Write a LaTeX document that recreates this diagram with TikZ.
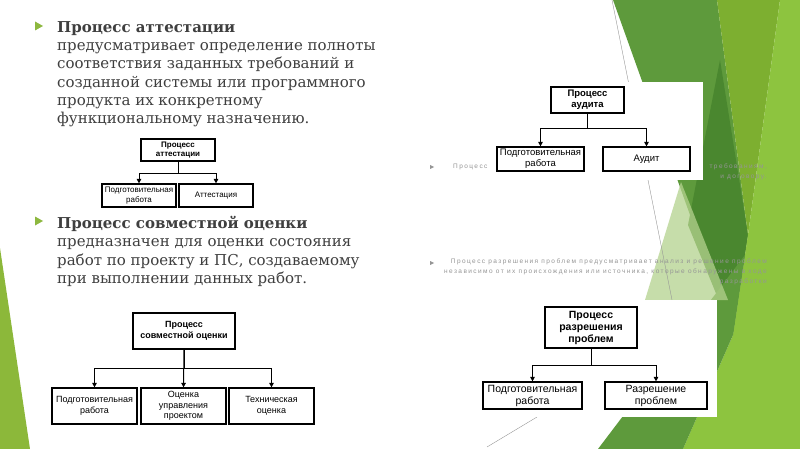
\documentclass[tikz,border=0pt]{standalone}
\usepackage{fontspec}
\setmainfont{DejaVu Serif}
\newfontfamily\boxfont{Liberation Sans}
\newfontfamily\hazefont[LetterSpace=22]{Liberation Sans}
\usetikzlibrary{positioning,arrows.meta}
\definecolor{slidetext}{HTML}{3F3F3F}
\definecolor{bulletgreen}{HTML}{8DB83F}
\definecolor{leafstrip}{HTML}{8CB83A}
\definecolor{leafmid}{HTML}{5E9A3C}
\definecolor{leafdark}{HTML}{4A872F}
\definecolor{leafolive}{HTML}{7DAF30}
\definecolor{leaflime}{HTML}{8DC43F}
\definecolor{leafpale}{HTML}{B4D28E}
\definecolor{hazegray}{HTML}{959595}
\def\slidebullet(#1,#2){\fill[bulletgreen] (#1,#2) ++(0,-4.5) -- ++(8,4.5) -- ++(-8,4.5) -- cycle;}
\tikzset{
  procbox/.style n args={2}{draw=black, line width=1.2pt, fill=white, align=center, inner sep=0pt, font=\boxfont\fontsize{#1}{#2}\selectfont},
  headbox/.style n args={2}{procbox={#1}{#2}, font=\boxfont\bfseries\fontsize{#1}{#2}\selectfont},
  link/.style={line width=1pt, -{Triangle[length=4.5pt,width=4.5pt]}},
  slidepara/.style={anchor=north west, align=left, inner sep=0pt, text=slidetext, font=\fontsize{15}{18.3}\selectfont},
  hazepara/.style={anchor=north east, align=right, inner sep=0pt, text=hazegray, font=\hazefont\fontsize{6.5}{9.6}\selectfont},
}

\begin{document}
\begin{tikzpicture}[x=1pt, y=-1pt]
			%%%%% START %%%%%
			\useasboundingbox[fill=white] (0,0) rectangle (800,449);
			
			% green leaves
			\fill[leafstrip] (0,248) -- (30,449) -- (0,449) -- cycle;
			\fill[leafmid] (613,0) -- (717,0) -- (748,235) -- (733,335) -- cycle;
			\fill[leafdark] (720,60) -- (748,235) -- (733,335) -- (688,225) -- cycle;
			\fill[leafolive] (717,0) -- (780,0) -- (748,235) -- cycle;
			\fill[leaflime] (780,0) -- (800,0) -- (800,449) -- (683,449) -- (733,335) -- (748,235) -- cycle;
			\fill[leafmid] (598,449) -- (683,449) -- (733,335) -- (745,255) -- cycle;
			\fill[leafpale, opacity=0.75] (681,182) -- (645,300) -- (728,300) -- cycle;
			
			\draw[hazegray, line width=0.4pt] (612,0) -- (672,300);
			\draw[hazegray, line width=0.4pt] (487,447) -- (537,417);
			
			% faint text round the pictures
			\fill[hazegray] (430,167) ++(0,-2) -- ++(4,2) -- ++(-4,2) -- cycle;
			\node[hazepara, anchor=west] (auditlead) at (453,167) {Процесс};
			\node[hazepara, anchor=east] (auditend) at (767,167) {требованиям,};
			\node[hazepara, anchor=east] (auditlast) at (767,177) {и договору.};
			\fill[hazegray] (430,263) ++(0,-2) -- ++(4,2) -- ++(-4,2) -- cycle;
			\node[hazepara] (solvetext) at (767,259) {Процесс разрешения проблем предусматривает анализ и решение проблем\\независимо от их происхождения или источника, которые обнаружены в ходе\\разработки};
			
			\fill[white] (490,82) rectangle (703,180);
			\fill[white] (470,300) rectangle (717,417);
			
			% attestation
			\slidebullet(35,26)
			\node[slidepara] (attesttext) at (57,21) {\textbf{Процесс аттестации}\\предусматривает определение полноты\\соответствия заданных требований и\\созданной системы или программного\\продукта их конкретному\\функциональному назначению.};
			
			\node[headbox={8}{9.5}, minimum width=74, minimum height=22] (att) at (178,150) {Процесс\\аттестации};
			\node[procbox={8}{9.5}, minimum width=74, minimum height=23] (attprep) at (139,195.5) {Подготовительная\\работа};
			\node[procbox={8}{9.5}, minimum width=74, minimum height=23] (attcert) at (216,195.5) {Аттестация};
			\draw[link] (att.south) -- ++(0,12) -| (attprep.north);
			\draw[link] (att.south) -- ++(0,12) -| (attcert.north);
			
			% joint review
			\slidebullet(35,221)
			\node[slidepara] (jointtext) at (57,216) {\textbf{Процесс совместной оценки}\\предназначен для оценки состояния\\работ по проекту и ПС, создаваемому\\при выполнении данных работ.};
			
			\node[headbox={9}{10.5}, minimum width=102, minimum height=36] (joint) at (184,331) {Процесс\\совместной оценки};
			\node[procbox={9}{10.5}, minimum width=85, minimum height=36] (jointprep) at (94.5,406) {Подготовительная\\работа};
			\node[procbox={9}{10.5}, minimum width=85, minimum height=36] (jointmgmt) at (183.5,406) {Оценка\\управления\\проектом};
			\node[procbox={9}{10.5}, minimum width=85, minimum height=36] (jointtech) at (271.5,406) {Техническая\\оценка};
			\draw[link] (joint.south) -- ++(0,19) -| (jointprep.north);
			\draw[link] (joint.south) -- (jointmgmt.north);
			\draw[link] (joint.south) -- ++(0,19) -| (jointtech.north);
			
			% audit
			\node[headbox={9.5}{11}, minimum width=73, minimum height=26] (audit) at (587.5,100) {Процесс\\аудита};
			\node[procbox={9.5}{11}, minimum width=87, minimum height=24] (auditprep) at (540.5,159) {Подготовительная\\работа};
			\node[procbox={9.5}{11}, minimum width=87, minimum height=24] (auditwork) at (646.5,159) {Аудит};
			\draw[link] (audit.south) -- ++(0,15) -| (auditprep.north);
			\draw[link] (audit.south) -- ++(0,15) -| (auditwork.north);
			
			% problem resolution
			\node[headbox={10.5}{12}, minimum width=92, minimum height=41] (solve) at (591,327.5) {Процесс\\разрешения\\проблем};
			\node[procbox={10.5}{12}, minimum width=99, minimum height=27] (solveprep) at (532.5,395.5) {Подготовительная\\работа};
			\node[procbox={10.5}{12}, minimum width=102, minimum height=27] (solvework) at (656,395.5) {Разрешение\\проблем};
			\draw[link] (solve.south) -- ++(0,17) -| (solveprep.north);
			\draw[link] (solve.south) -- ++(0,17) -| (solvework.north);
			
			%%%%% END %%%%%
\end{tikzpicture}
\end{document}
